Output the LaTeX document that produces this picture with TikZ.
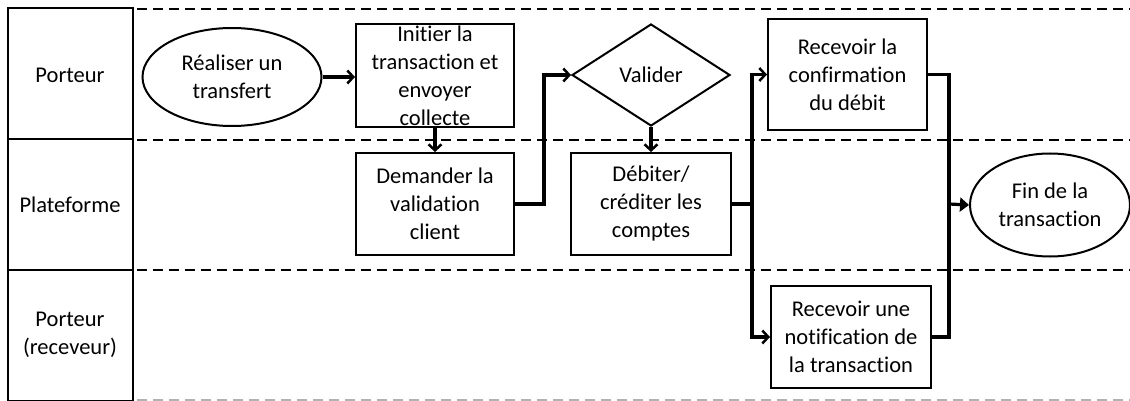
\documentclass[tikz,border=0pt]{standalone}
\usepackage{fontspec}
\setmainfont{Carlito}[Ligatures=NoCommon]
\usetikzlibrary{shapes.geometric,arrows.meta}
\tikzset{
  lane/.style={draw,line width=2pt},
  lanelabel/.style={align=center,font=\fontsize{22.5}{28}\selectfont},
  sep/.style={dashed,line width=2pt,dash pattern=on 10pt off 6pt},
  procbox/.style={draw,line width=2pt,rectangle,inner sep=0pt,align=center,font=\fontsize{22.5}{28}\selectfont},
  term/.style={draw,line width=2pt,ellipse,inner sep=0pt,align=center,font=\fontsize{22.5}{28}\selectfont},
  decision/.style={draw,line width=2pt,diamond,inner sep=0pt,align=center,font=\fontsize{22.5}{28}\selectfont},
  conn/.style={line width=3.2pt},
  arr/.style={conn,-{Straight Barb[length=6pt,width=13pt,line width=2.5pt]}},
  bigarr/.style={conn,-{Triangle[length=9pt,width=14pt]}}
}
\begin{document}
\begin{tikzpicture}[x=1pt,y=-1pt]
\useasboundingbox (0,0) rectangle (1130,401);
% lanes
\draw[lane] (8,8) rectangle (133,139);
\draw[lane] (8,139) rectangle (133,270);
\draw[lane] (8,270) rectangle (133,401);
\node[lanelabel] (l1) at (70,75) {Porteur};
\node[lanelabel] (l2) at (70,205) {Plateforme};
\node[lanelabel] (l3) at (70,335) {Porteur\\(receveur)};
\draw[sep] (137,9) -- (1130,9);
\draw[sep] (137,140) -- (1130,140);
\draw[sep] (137,270) -- (1130,270);
\draw[sep,draw=black!30] (137,400) -- (1130,400);
% nodes
\node[term,minimum width=179pt,minimum height=98pt] (real) at (232,77) {Réaliser un\\transfert};
\node[procbox,minimum width=158pt,minimum height=103pt] (init) at (435,75.5) {Initier la\\transaction et\\envoyer\\collecte};
\node[procbox,minimum width=158pt,minimum height=102pt] (dem) at (435,204) {Demander la\\validation\\client};
\node[decision,minimum width=158pt,minimum height=102pt] (val) at (651,75) {Valider};
\node[procbox,minimum width=160pt,minimum height=102pt] (deb) at (651,204) {Débiter/\\créditer les\\comptes};
\node[procbox,minimum width=159pt,minimum height=111pt] (conf) at (847.5,74.5) {Recevoir la\\confirmation\\du débit};
\node[procbox,minimum width=160pt,minimum height=102pt] (notif) at (851,337) {Recevoir une\\notification de\\la transaction};
\node[term,minimum width=160pt,minimum height=103pt] (fin) at (1050,205) {Fin de la\\transaction};
\coordinate (j1) at (752,204);
\coordinate (j2) at (949,204);
% connectors
\draw[arr] (real.east) -- (init.west |- real.east);
\draw[arr] (init.south) -- (dem.north);
\draw[arr] (dem.east) -- ++(29,0) |- (val.west);
\draw[arr] (val.south) -- (deb.north);
\draw[conn] (deb.east) -- (j1);
\draw[arr] (j1) |- (conf.west);
\draw[arr] (j1) |- (notif.west);
\draw[conn] (conf.east) -| (j2);
\draw[conn] (notif.east) -| (j2);
\draw[bigarr] (j2) -- (fin.west);
\end{tikzpicture}
\end{document}
